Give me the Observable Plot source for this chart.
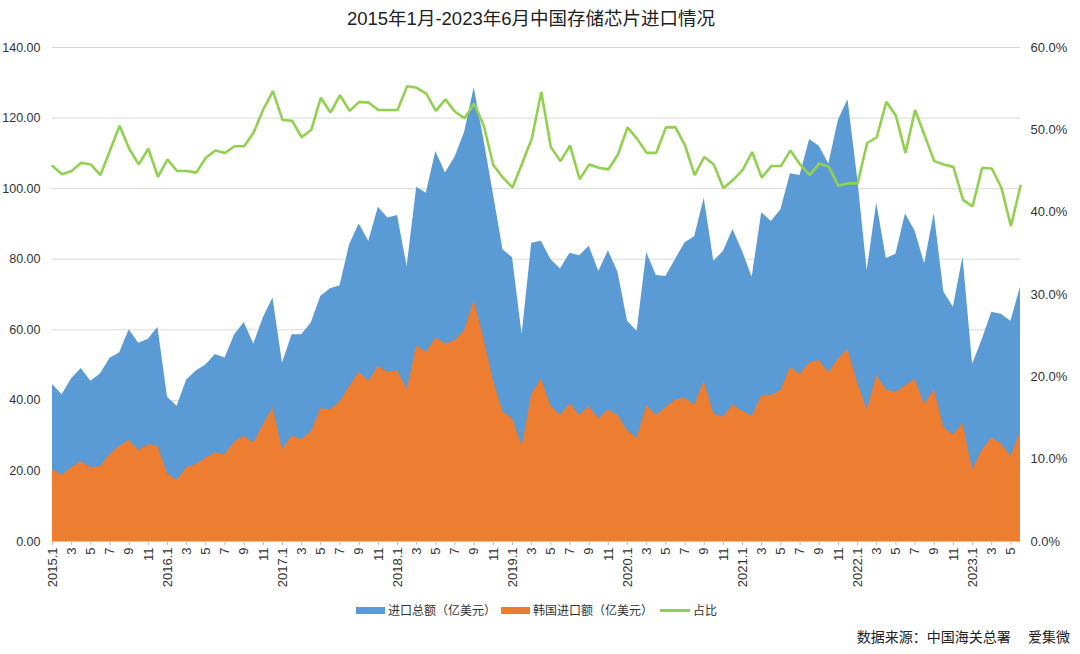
<!DOCTYPE html>
<html>
<head>
<meta charset="utf-8">
<script src="https://cdn.jsdelivr.net/npm/d3@7"></script>
<script src="https://cdn.jsdelivr.net/npm/@observablehq/plot@0.6"></script>
<style>
  html, body { margin: 0; padding: 0; background: #fff; }
  #wrap { position: relative; width: 1080px; height: 654px; overflow: hidden;
          font-family: "Liberation Sans", Arial, "Noto Sans CJK SC", sans-serif; }
  #title { position: absolute; left: 0; top: 0; width: 1062px; height: 38px; line-height: 38px;
           text-align: center; font-size: 18.5px; color: #222; }
  #chart { position: absolute; left: 0; top: 34px; }
  #legend { position: absolute; top: 602px; left: 0; width: 1080px; height: 16px;
            font-family: "Noto Sans CJK SC", sans-serif; font-size: 12px; color: #333; }
  .item { position: absolute; top: 0; height: 16px; line-height: 16px; white-space: nowrap; }
  .sw { display: inline-block; width: 29px; height: 7px; vertical-align: middle; margin-right: 3px; position: relative; top: -1px; }
  .ln { display: inline-block; width: 30px; height: 3px; vertical-align: middle; margin-right: 3px; background: #92D050; position: relative; top: -1px; }
  #caption { position: absolute; top: 626px; right: 10px; font-family: "Noto Sans CJK SC", sans-serif;
             font-size: 14px; color: #222; white-space: pre; }
</style>
</head>
<body>
<div id="wrap">
  <div id="title">2015年1月-2023年6月中国存储芯片进口情况</div>
  <div id="chart"></div>
  <div id="legend">
    <div class="item" style="left:356px"><span class="sw" style="background:#5B9BD5"></span>进口总额（亿美元）</div>
    <div class="item" style="left:501px"><span class="sw" style="background:#ED7D31"></span>韩国进口额（亿美元）</div>
    <div class="item" style="left:660px"><span class="ln"></span>占比</div>
  </div>
  <div id="caption">数据来源：中国海关总署　 爱集微</div>
</div>
<script>
// 进口总额（亿美元）, monthly 2015.1 – 2023.6
const total = [
  44.5, 41.6, 46.1, 49.0, 45.4, 47.5, 51.9, 53.4, 60.0, 56.2, 57.3, 60.7,
  40.9, 38.3, 45.8, 48.3, 50.0, 53.0, 52.0, 58.5, 62.1, 56.0, 63.4, 69.0,
  50.5, 58.6, 58.6, 61.9, 69.5, 71.6, 72.5, 84.1, 90.0, 85.1, 94.7, 91.7,
  92.4, 77.9, 100.4, 98.7, 110.5, 104.4, 108.9, 116.0, 128.6, 114.0, 98.5, 82.7,
  80.4, 58.6, 84.5, 85.1, 79.9, 77.2, 81.7, 81.0, 83.7, 76.5, 82.4, 76.3,
  62.4, 59.6, 81.9, 75.4, 75.1, 79.9, 84.7, 86.4, 97.3, 79.4, 82.2, 88.4,
  82.2, 74.9, 93.2, 90.7, 94.0, 104.2, 103.7, 113.9, 112.0, 107.0, 119.4, 125.2,
  103.0, 76.8, 95.9, 80.2, 81.4, 92.8, 88.0, 78.7, 93.0, 70.7, 66.4, 80.6,
  50.2, 57.1, 65.0, 64.4, 62.4, 72.1
];
// 韩国进口额（亿美元）
const korea = [
  20.3, 18.7, 20.9, 22.6, 20.9, 21.2, 24.6, 26.9, 28.6, 25.8, 27.4, 27.0,
  19.2, 17.3, 20.9, 21.8, 23.6, 25.1, 24.6, 28.1, 29.8, 27.9, 33.0, 37.8,
  26.0, 29.8, 28.9, 31.0, 37.6, 37.4, 39.5, 43.9, 48.0, 45.4, 49.6, 48.0,
  48.4, 43.1, 55.3, 53.6, 57.7, 56.0, 56.9, 59.8, 68.3, 57.5, 45.6, 36.7,
  34.8, 27.0, 41.6, 46.1, 38.3, 35.7, 39.0, 35.7, 38.2, 34.7, 37.3, 35.7,
  31.4, 29.3, 38.5, 35.7, 37.9, 40.1, 40.6, 38.7, 45.3, 36.2, 35.2, 38.7,
  36.9, 35.4, 41.2, 41.4, 42.8, 49.4, 47.3, 50.6, 51.3, 47.8, 51.7, 54.4,
  45.0, 37.3, 47.0, 42.9, 42.2, 44.1, 45.9, 38.8, 43.0, 32.4, 30.2, 33.4,
  20.3, 25.8, 29.4, 27.6, 24.1, 31.1
];
// 占比 (%)
const share = [
  45.6, 44.6, 45.0, 46.0, 45.8, 44.5, 47.5, 50.5, 47.7, 45.8, 47.7, 44.3,
  46.4, 45.0, 45.0, 44.8, 46.6, 47.5, 47.2, 48.0, 48.0, 49.7, 52.5, 54.7,
  51.2, 51.1, 49.1, 50.0, 53.9, 52.1, 54.2, 52.3, 53.4, 53.3, 52.4, 52.4,
  52.4, 55.3, 55.1, 54.4, 52.3, 53.7, 52.2, 51.4, 53.2, 50.5, 45.7, 44.2,
  43.0, 45.9, 48.9, 54.6, 47.9, 46.2, 48.1, 44.0, 45.8, 45.4, 45.2, 47.0,
  50.3, 48.9, 47.2, 47.2, 50.3, 50.3, 48.1, 44.5, 46.7, 45.8, 42.9, 43.9,
  45.1, 47.3, 44.2, 45.6, 45.6, 47.5, 45.8, 44.5, 45.9, 45.5, 43.2, 43.5,
  43.5, 48.4, 49.1, 53.4, 51.7, 47.2, 52.4, 49.3, 46.2, 45.8, 45.5, 41.5,
  40.7, 45.4, 45.3, 43.0, 38.3, 43.2
];
// category labels
const years = [2015, 2016, 2017, 2018, 2019, 2020, 2021, 2022, 2023];
const months = [];
years.forEach(y => { for (let m = 1; m <= 12; m++) if (months.length < 102) months.push({y, m}); });
const monthLabels = months.map(d => d.m === 1 ? `${d.y}.1` : String(d.m));
const leftTicks = [0, 20, 40, 60, 80, 100, 120, 140];
const rightTicks = [0, 10, 20, 30, 40, 50, 60];

const k = 140 / 60;
const data = months.map((d, i) => ({i, total: total[i], korea: korea[i], share: share[i]}));
const xTicks = data.filter(d => months[d.i].m % 2 === 1).map(d => d.i);

const chart = Plot.plot({
  width: 1080,
  height: 556,
  marginLeft: 52,
  marginRight: 60,
  marginTop: 13,
  marginBottom: 49,
  x: {domain: [0, months.length - 1], label: null},
  y: {domain: [0, 140], label: null},
  style: {fontFamily: "'Liberation Sans', Arial, sans-serif", color: "#333", background: "transparent", overflow: "visible"},
  marks: [
    Plot.gridY(leftTicks, {stroke: "#d9d9d9", strokeOpacity: 1, strokeWidth: 1}),
    Plot.areaY(data, {x: "i", y: "total", fill: "#5B9BD5"}),
    Plot.areaY(data, {x: "i", y: "korea", fill: "#ED7D31"}),
    Plot.line(data, {x: "i", y: d => d.share * k, stroke: "#92D050", strokeWidth: 2.6, strokeLinejoin: "miter"}),
    Plot.ruleY([0], {stroke: "#c8c8c8", strokeWidth: 1}),
    Plot.axisY(leftTicks, {anchor: "left", tickSize: 0, tickPadding: 12, fontSize: 12.5, label: null,
      tickFormat: d => d.toFixed(2), fill: "#333"}),
    Plot.axisY(rightTicks.map(p => p * k), {anchor: "right", tickSize: 0, tickPadding: 10, fontSize: 13, label: null,
      tickFormat: d => (d / k).toFixed(1) + "%", fill: "#333"}),
    Plot.axisX(xTicks, {anchor: "bottom", tickSize: 4, tickPadding: 2, tickRotate: -90, fontSize: 13, label: null,
      stroke: "#bbb", fill: "#333", tickFormat: i => monthLabels[i]})
  ]
});
document.getElementById("chart").appendChild(chart);
</script>
</body>
</html>
